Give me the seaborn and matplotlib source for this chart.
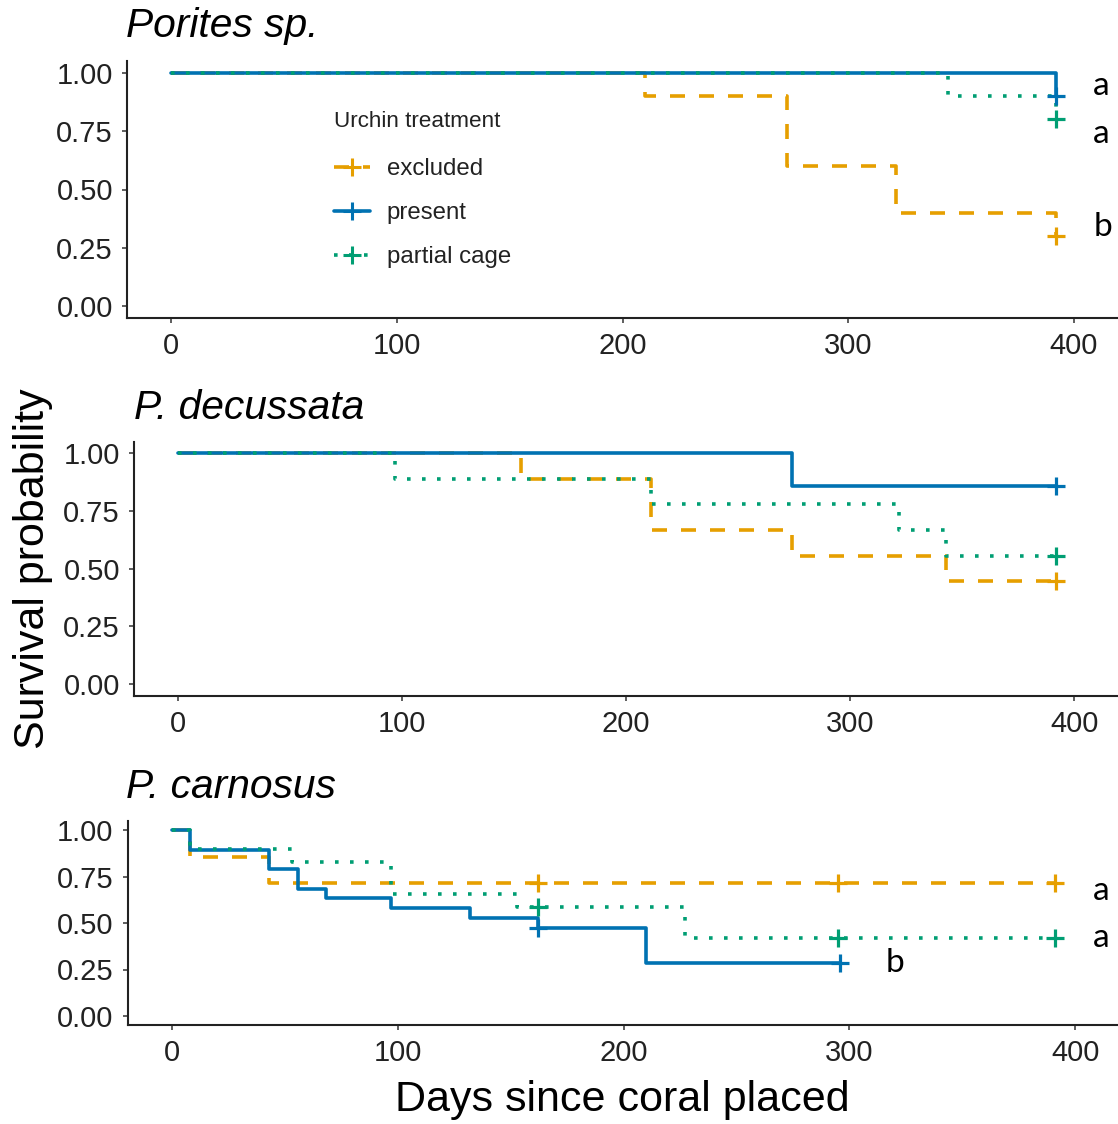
import matplotlib
matplotlib.use("Agg")
import matplotlib.pyplot as plt
import seaborn as sns
from matplotlib.lines import Line2D

# ---------------- data ----------------
treatments = ["excluded", "present", "partial cage"]
species = ["Porites sp.", "P. decussata", "P. carnosus"]
x_ticks = [0, 100, 200, 300, 400]
y_ticks = [0.0, 0.25, 0.50, 0.75, 1.00]
y_tick_labels = ["0.00", "0.25", "0.50", "0.75", "1.00"]
x_label = "Days since coral placed"
y_label = "Survival probability"
legend_title = "Urchin treatment"

# Porites sp.
por_exc_t = [0, 210, 273, 321, 392]
por_exc_s = [1.0, 0.9, 0.6, 0.4, 0.3]
por_pre_t = [0, 392]
por_pre_s = [1.0, 0.9]
por_par_t = [0, 344, 392]
por_par_s = [1.0, 0.9, 0.8]
por_exc_cens_t = [392]
por_exc_cens_s = [0.3]
por_pre_cens_t = [392]
por_pre_cens_s = [0.9]
por_par_cens_t = [392]
por_par_cens_s = [0.8]

# P. decussata
dec_exc_t = [0, 153, 211, 274, 343, 392]
dec_exc_s = [1.0, 0.889, 0.667, 0.556, 0.444, 0.444]
dec_pre_t = [0, 274, 392]
dec_pre_s = [1.0, 0.857, 0.857]
dec_par_t = [0, 97, 211, 322, 343, 392]
dec_par_s = [1.0, 0.889, 0.778, 0.667, 0.556, 0.556]
dec_exc_cens_t = [392]
dec_exc_cens_s = [0.444]
dec_pre_cens_t = [392]
dec_pre_cens_s = [0.857]
dec_par_cens_t = [392]
dec_par_cens_s = [0.556]

# P. carnosus
car_exc_t = [0, 8, 43, 391]
car_exc_s = [1.0, 0.857, 0.714, 0.714]
car_pre_t = [0, 8, 43, 56, 68, 97, 132, 162, 210, 296]
car_pre_s = [1.0, 0.895, 0.789, 0.684, 0.632, 0.579, 0.526, 0.474, 0.284, 0.284]
car_par_t = [0, 8, 53, 97, 153, 227, 391]
car_par_s = [1.0, 0.9, 0.83, 0.655, 0.586, 0.418, 0.418]
car_exc_cens_t = [162, 295, 391]
car_exc_cens_s = [0.714, 0.714, 0.714]
car_pre_cens_t = [162, 296]
car_pre_cens_s = [0.474, 0.284]
car_par_cens_t = [162, 295, 391]
car_par_cens_s = [0.586, 0.418, 0.418]

# significance letters (x, y, text)
por_letters_x = [408.5, 408.5, 408.5]
por_letters_y = [0.905, 0.70, 0.30]
por_letters = ["a", "a", "b"]
car_letters_x = [408, 408, 316]
car_letters_y = [0.625, 0.37, 0.235]
car_letters = ["a", "a", "b"]

# ---------------- style ----------------
colors = {"excluded": "#E69F00", "present": "#0072B2", "partial cage": "#009E73"}
LW = 2.6
lw_px = LW * 100 / 72
styles = {
    "excluded": (0, (15 / lw_px, 14 / lw_px)),
    "present": "-",
    "partial cage": (0, (3.6 / lw_px, 11.4 / lw_px)),
}

sns.set_theme(style="ticks")
plt.rcParams["font.family"] = ["Liberation Sans", "DejaVu Sans"]

W, H = 1118, 1124
fig = plt.figure(figsize=(W / 100, H / 100), dpi=100)


def fx(px):
    return px / W


def fy(py):
    return 1 - py / H


# axes rectangles in pixel coords: left, top, right, bottom
rects = [(127, 61, 1118, 318), (134, 441.5, 1118, 695.5), (127.6, 820.7, 1118, 1025.3)]
xlims = [(-19.5, 419.5), (-19.6, 419.6), (-19.7, 419.0)]
title_pos = [(126, 37), (134, 419), (126, 798)]

panels = [
    [(por_exc_t, por_exc_s, por_exc_cens_t, por_exc_cens_s),
     (por_pre_t, por_pre_s, por_pre_cens_t, por_pre_cens_s),
     (por_par_t, por_par_s, por_par_cens_t, por_par_cens_s)],
    [(dec_exc_t, dec_exc_s, dec_exc_cens_t, dec_exc_cens_s),
     (dec_pre_t, dec_pre_s, dec_pre_cens_t, dec_pre_cens_s),
     (dec_par_t, dec_par_s, dec_par_cens_t, dec_par_cens_s)],
    [(car_exc_t, car_exc_s, car_exc_cens_t, car_exc_cens_s),
     (car_pre_t, car_pre_s, car_pre_cens_t, car_pre_cens_s),
     (car_par_t, car_par_s, car_par_cens_t, car_par_cens_s)],
]

axes = []
for i, (l, t, r, b) in enumerate(rects):
    ax = fig.add_axes([fx(l), fy(b), fx(r) - fx(l), fy(t) - fy(b)])
    axes.append(ax)
    for j, trt in enumerate(treatments):
        tt, ss, ct, cs = panels[i][j]
        sns.lineplot(x=tt, y=ss, ax=ax, color=colors[trt], linestyle=styles[trt],
                     linewidth=LW, drawstyle="steps-post", estimator=None,
                     sort=False, zorder=2 + j)
        sns.scatterplot(x=ct, y=cs, ax=ax, color=colors[trt], marker="+",
                        s=160, linewidth=2.3, zorder=5 + j)
    ax.set_xlim(*xlims[i])
    ax.set_ylim(-0.05, 1.05)
    ax.set_xticks(x_ticks)
    ax.set_xticklabels([str(v) for v in x_ticks])
    ax.set_yticks(y_ticks)
    ax.set_yticklabels(y_tick_labels)
    ax.tick_params(axis="both", labelsize=21, length=3.6, width=1.1,
                   color="#333333", labelcolor="#222222", pad=6.5, direction="out")
    for side in ["top", "right"]:
        ax.spines[side].set_visible(False)
    for side in ["left", "bottom"]:
        ax.spines[side].set_linewidth(1.5)
        ax.spines[side].set_color("#222222")
    ax.set_xlabel("")
    ax.set_ylabel("")
    ax.set_facecolor("white")
    fig.text(fx(title_pos[i][0]), fy(title_pos[i][1]), species[i], fontsize=29.3,
             fontstyle="italic", ha="left", va="baseline", color="black")

# significance letters
for x, y, s in zip(por_letters_x, por_letters_y, por_letters):
    axes[0].text(x, y, s, fontsize=24, family=["Lato", "DejaVu Sans"],
                 ha="left", va="baseline", color="black", clip_on=False)
for x, y, s in zip(car_letters_x, car_letters_y, car_letters):
    axes[2].text(x, y, s, fontsize=24, family=["Lato", "DejaVu Sans"],
                 ha="left", va="baseline", color="black", clip_on=False)

# legend in first panel
handles = [Line2D([0], [0], color=colors[t], linestyle=styles[t], linewidth=LW,
                  marker="+", markersize=13, markeredgewidth=2.2) for t in treatments]
leg = fig.legend(handles, treatments, title=legend_title, loc="upper left",
                 bbox_to_anchor=(fx(334), fy(111)), frameon=False, fontsize=17.3,
                 title_fontsize=16.2, handlelength=1.5, handletextpad=0.7,
                 labelspacing=0.92, borderpad=0, borderaxespad=0, alignment="left")
leg._legend_box.sep = leg._legend_box.sep + 3
for txt in leg.get_texts():
    txt.set_color("#222222")
leg.get_title().set_color("#222222")

# axis labels
fig.text(fx(33), fy(569), y_label, rotation=90, fontsize=31, ha="center",
         va="center", color="black")
fig.text(fx(622), fy(1111), x_label, fontsize=31, ha="center", va="baseline",
         color="black")

fig.savefig("out.png", dpi=100, facecolor="white")
